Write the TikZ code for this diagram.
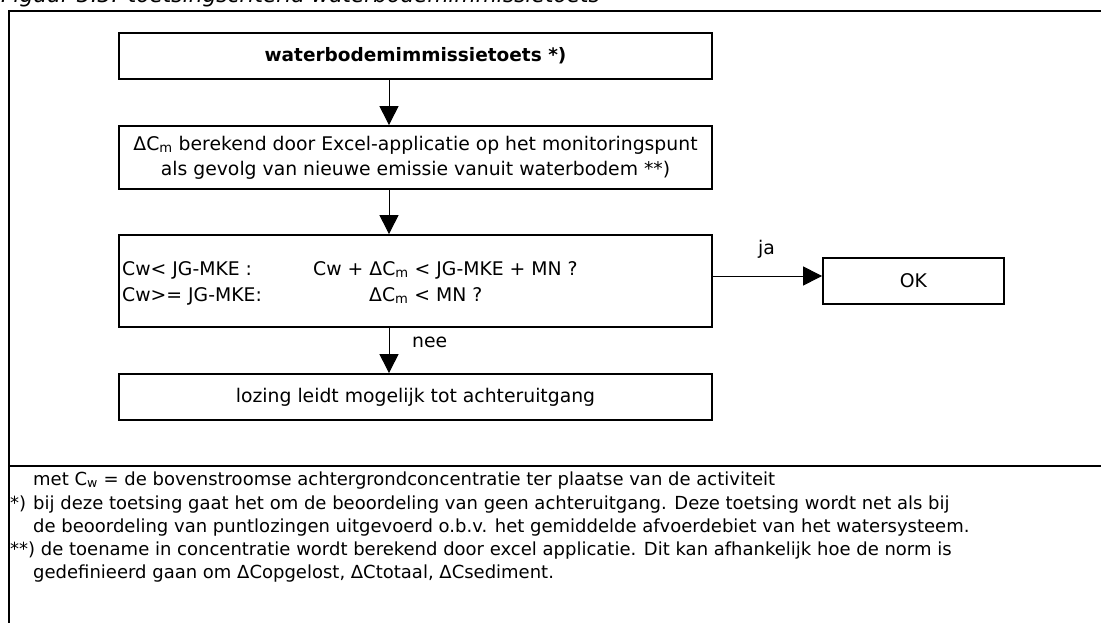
\documentclass[tikz,border=0pt]{standalone}
\usepackage{fontspec}
\setmainfont{DejaVu Sans}
\usetikzlibrary{arrows.meta}

\begin{document}
\begin{tikzpicture}[x=1pt,y=-1pt,
  box/.style={draw,line width=1.8pt,minimum width=593pt,minimum height=46pt,inner sep=0pt,align=center,font=\fontsize{18.8}{25}\selectfont},
  lbl/.style={inner sep=0pt,anchor=base west,font=\fontsize{18.8}{25}\selectfont},
  note/.style={inner sep=0pt,anchor=base west,font=\fontsize{18}{20}\selectfont},
  flow/.style={->,line width=1pt},
  >={Triangle[length=19pt,width=19pt]}]
\useasboundingbox (0,0) rectangle (1101,623);
\node[inner sep=0pt,anchor=base west,font=\fontsize{21.7}{25}\selectfont\itshape] (cap) at (1,2.5) {Figuur 3.3: toetsingscriteria waterbodemimmissietoets};
\draw[line width=2pt] (1110,10.7) -| (9,630);
\draw[line width=2pt] (9,466) -- (1110,466);
\node[box,font=\fontsize{18.5}{25}\selectfont\bfseries] (b1) at (415.5,56) {waterbodemimmissietoets *)};
\node[box,minimum height=63pt] (b2) at (415.5,157.5) {ΔC\textsubscript{m} berekend door Excel-applicatie op het monitoringspunt\\als gevolg van nieuwe emissie vanuit waterbodem **)};
\node[box,minimum height=92pt] (b3) at (415.5,281) {};
\node[box] (b4) at (415.5,397) {lozing leidt mogelijk tot achteruitgang};
\node[box,minimum width=181pt] (ok) at (913.5,281) {OK};
\node[lbl] (c1) at (122,275) {Cw< JG-MKE :};
\node[lbl] (c2) at (122,301) {Cw>= JG-MKE:};
\node[lbl] (t1) at (313,275) {Cw + ΔC\textsubscript{m} < JG-MKE + MN ?};
\node[lbl] (t2) at (369,301) {ΔC\textsubscript{m} < MN ?};
\coordinate (ax) at (389,0);
\coordinate (jy) at (0,276);
\draw[flow] (b1.south -| ax) -- (b2.north -| ax);
\draw[flow] (b2.south -| ax) -- (b3.north -| ax);
\draw[flow] (b3.south -| ax) -- (b4.north -| ax);
\node[lbl] (nee) at (412,347) {nee};
\draw[flow] (b3.east |- jy) -- (ok.west |- jy);
\node[lbl] (ja) at (758,254) {ja};
\node[note] (n1) at (33,485) {met C\textsubscript{w} = de bovenstroomse achtergrondconcentratie ter plaatse van de activiteit};
\node[note] (s1) at (10,509) {*)};
\node[note] (n2) at (33,509) {bij deze toetsing gaat het om de beoordeling van geen achteruitgang. Deze toetsing wordt net als bij};
\node[note] (n3) at (33,532) {de beoordeling van puntlozingen uitgevoerd o.b.v. het gemiddelde afvoerdebiet van het watersysteem.};
\node[note] (n4) at (10,555) {**) de toename in concentratie wordt berekend door excel applicatie. Dit kan afhankelijk hoe de norm is};
\node[note] (n5) at (33,578) {gedefinieerd gaan om ΔCopgelost, ΔCtotaal, ΔCsediment.};
\end{tikzpicture}
\end{document}
